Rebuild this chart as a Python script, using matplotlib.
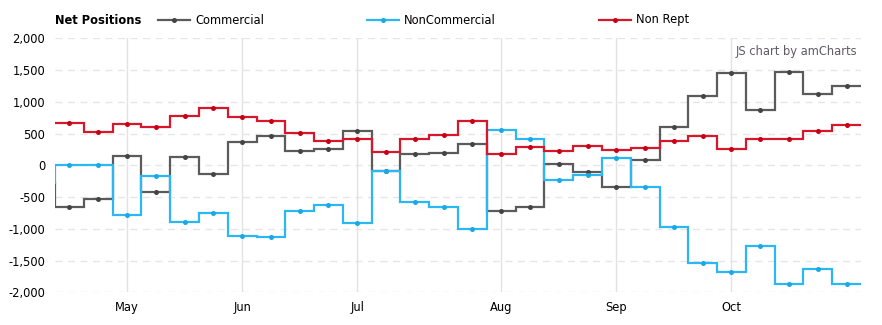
import numpy as np
import pandas as pd
import matplotlib
matplotlib.use("Agg")
import matplotlib.pyplot as plt
from matplotlib.lines import Line2D

# Weekly report dates (first one lies just left of the visible window)
dates = pd.date_range("2019-04-16", periods=29, freq="7D")

commercial = [-280, -653, -532, 151, -416, 136, -132, 372, 467, 230, 252,
              536, -85, 183, 199, 341, -716, -662, 25, -110, -337, 88,
              609, 1098, 1461, 877, 1476, 1129, 1256]
noncommercial = [-280, 10, 10, -779, -164, -890, -748, -1110, -1126, -716, -621,
                 -905, -95, -574, -653, -1000, 552, 410, -227, -158, 120, -337,
                 -968, -1536, -1678, -1268, -1872, -1631, -1872]
nonrept = [672, 672, 530, 656, 609, 782, 909, 767, 704, 514, 388,
           410, 215, 410, 483, 694, 183, 293, 230, 309, 246, 278,
           388, 467, 252, 420, 420, 546, 640]

series = [("Commercial", commercial, "#5b5b5b", "#444444"),
          ("NonCommercial", noncommercial, "#2bb7f2", "#1aa8e6"),
          ("Non Rept", nonrept, "#d5182b", "#c80015")]

yticks = [-2000, -1500, -1000, -500, 0, 500, 1000, 1500, 2000]

W, H = 882, 325
fig = plt.figure(figsize=(W / 100, H / 100), dpi=100)
ax = fig.add_axes([55 / W, 1 - 292.3 / H, (861 - 55) / W, (292.3 - 38.3) / H])

x = np.arange(len(dates))
edges = np.arange(len(dates) + 1) - 0.5

for i, (name, vals, col, mcol) in enumerate(series):
    v = np.array(vals, dtype=float)
    ax.stairs(v, edges, color=col, lw=1.6, zorder=3 + i, baseline=None)
    ax.plot(x, v, "o", ms=3.6, color=mcol, zorder=3 + i, mec="none")

ax.set_xlim(0.5, len(dates) - 0.5)
ax.set_ylim(-2000, 2000)

# month ticks at first data point of each month
month_idx = [i for i in range(1, len(dates)) if dates[i].month != dates[i - 1].month]
ax.set_xticks(month_idx)
ax.set_xticklabels([dates[i].strftime("%b") for i in month_idx])
ax.set_yticks(yticks)
ax.set_yticklabels([f"{t:,}" for t in yticks])

for t in yticks:
    ax.axhline(t, color="#e6e6e6", lw=1, ls=(0, (5, 4)), zorder=1)
for i in month_idx:
    ax.axvline(i, color="#e2e2e2", lw=1, zorder=1)

for s in ax.spines.values():
    s.set_visible(False)
ax.tick_params(axis="both", length=0, labelsize=8.3, colors="#000000")
ax.tick_params(axis="x", pad=6)
ax.tick_params(axis="y", pad=7)

# legend
fig.text(55 / W, 1 - 20 / H, "Net Positions", fontsize=8.3, fontweight="bold",
         va="center", ha="left")
leg_x = [158, 367, 599]
for (name, vals, col, mcol), lx in zip(series, leg_x):
    yy = 1 - 20 / H
    fig.add_artist(Line2D([lx / W, (lx + 32) / W], [yy, yy], color=col, lw=1.6,
                          transform=fig.transFigure))
    fig.add_artist(Line2D([(lx + 16) / W], [yy], marker="o", ms=3.6, color=mcol,
                          mec="none", transform=fig.transFigure))
    fig.text((lx + 37) / W, yy, name, fontsize=8.3, va="center", ha="left")

fig.text(857 / W, 1 - 51 / H, "JS chart by amCharts", fontsize=8.3,
         color="#5f5a68", ha="right", va="center")

fig.savefig("out.png", dpi=100)
